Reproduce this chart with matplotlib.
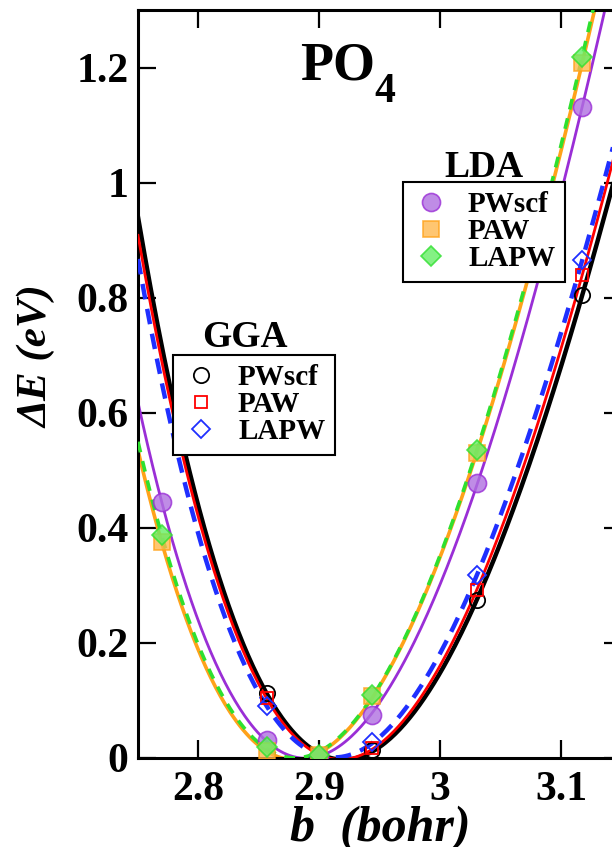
import numpy as np
import matplotlib
matplotlib.use("Agg")
import matplotlib.pyplot as plt
from matplotlib.lines import Line2D

# lattice parameter b (bohr) of the computed points
b_lda = [2.7695, 2.8565, 2.9, 2.9435, 3.0305, 3.1175]
b_gga = [2.8565, 2.9, 2.9435, 3.0305, 3.1175]

# GGA energies (eV)
gga_pwscf = [0.112, 0.004, 0.013, 0.274, 0.804]
gga_paw = [0.103, 0.003, 0.016, 0.292, 0.839]
gga_lapw = [0.090, 0.002, 0.027, 0.317, 0.865]

# LDA energies (eV)
lda_pwscf = [0.445, 0.030, 0.002, 0.074, 0.477, 1.131]
lda_paw = [0.375, 0.012, 0.004, 0.107, 0.530, 1.208]
lda_lapw = [0.387, 0.018, 0.004, 0.109, 0.535, 1.219]

codes = ["PWscf", "PAW", "LAPW"]

SERIF = "Liberation Serif"
plt.rcParams["font.family"] = [SERIF, "DejaVu Serif"]
plt.rcParams["font.weight"] = "bold"

fig = plt.figure(figsize=(6.12, 8.47), dpi=100)
ax = fig.add_axes([138 / 612, 1 - 757.5 / 847, 483.5 / 612, 747.5 / 847])

bb = np.linspace(2.75, 3.15, 300)


def fit(x, y):
    # Birch-like fit: cubic in b^-2
    x = np.asarray(x)
    c = np.polyfit(x ** -2.0, y, 3)
    return np.polyval(c, bb ** -2.0)


PURPLE = "#9a2ed6"
ORANGE = "#ffa21a"
GREEN = "#2ee02e"
BLUE = "#1f2fff"

# fitted curves
ax.plot(bb, fit(b_gga, gga_pwscf), color="black", lw=3.2, zorder=2)
ax.plot(bb, fit(b_gga, gga_paw), color="red", lw=2.0, zorder=3)
ax.plot(bb, fit(b_gga, gga_lapw), color=BLUE, lw=3.2, ls=(0, (3.5, 2.2)), zorder=3)
ax.plot(bb, fit(b_lda, lda_pwscf), color=PURPLE, lw=2.0, zorder=2)
ax.plot(bb, fit(b_lda, lda_paw), color=ORANGE, lw=2.6, zorder=2)
ax.plot(bb, fit(b_lda, lda_lapw), color=GREEN, lw=2.6, ls=(0, (3.0, 2.5)), zorder=3)

# marker styles
gga_style = [dict(marker="o", ms=11, mfc="none", mec="black", mew=1.3),
             dict(marker="s", ms=9, mfc="none", mec="red", mew=1.3),
             dict(marker="D", ms=9, mfc="none", mec=BLUE, mew=1.3)]
lda_style = [dict(marker="o", ms=13, mfc="#b070e0", mec=PURPLE, mew=1.2, alpha=0.8),
             dict(marker="s", ms=11, mfc="#ffb84d", mec=ORANGE, mew=1.2, alpha=0.8),
             dict(marker="D", ms=10, mfc="#66ee66", mec=GREEN, mew=1.2, alpha=0.8)]

for y, st in zip([gga_pwscf, gga_paw, gga_lapw], gga_style):
    ax.plot(b_gga, y, ls="none", zorder=4, **st)
for y, st in zip([lda_pwscf, lda_paw, lda_lapw], lda_style):
    ax.plot(b_lda, y, ls="none", zorder=4, **st)

ax.set_xlim(2.75, 3.15)
ax.set_ylim(0, 1.3)
ax.set_xticks([2.8, 2.9, 3.0, 3.1])
ax.set_xticklabels(["2.8", "2.9", "3", "3.1"])
ax.set_yticks([0, 0.2, 0.4, 0.6, 0.8, 1.0, 1.2])
ax.set_yticklabels(["0", "0.2", "0.4", "0.6", "0.8", "1", "1.2"])
ax.tick_params(direction="in", length=13, width=1.6, top=True, right=True, labelsize=30)
ax.tick_params(axis="x", pad=10)
ax.tick_params(axis="y", pad=7)
for lab in ax.get_xticklabels() + ax.get_yticklabels():
    lab.set_fontweight("bold")
for s in ax.spines.values():
    s.set_linewidth(2.2)

ax.set_xlabel("b  (bohr)", fontsize=36, fontweight="bold", style="italic")
ax.xaxis.set_label_coords(0.502, -0.065)
ax.set_ylabel("ΔE (eV)", fontsize=31, fontweight="bold", style="italic")
ax.yaxis.set_label_coords(-0.168, 0.537)

fig.text(300 / 612, 1 - 80 / 847, "PO", fontsize=39, fontweight="bold", ha="left", va="baseline")
fig.text(374 / 612, 1 - 102 / 847, "4", fontsize=30, fontweight="bold", ha="left", va="baseline")

# legends
gga_h = [Line2D([], [], ls="none", **st) for st in gga_style]
lda_h = [Line2D([], [], ls="none", **st) for st in lda_style]

leg_kw = dict(loc="upper left", bbox_transform=fig.transFigure, fancybox=False,
              edgecolor="black", framealpha=1, borderpad=0.32, borderaxespad=0,
              labelspacing=0.0, handlelength=1.26, handletextpad=0.65,
              prop={"family": SERIF, "weight": "bold", "size": 21})
leg1 = ax.legend(gga_h, codes, bbox_to_anchor=(173 / 612, 1 - 355 / 847), **leg_kw)
leg1.get_frame().set_linewidth(1.5)
ax.add_artist(leg1)
leg2 = ax.legend(lda_h, codes, bbox_to_anchor=(403 / 612, 1 - 182 / 847), **leg_kw)
leg2.get_frame().set_linewidth(1.5)

fig.text(245 / 612, 1 - 347 / 847, "GGA", fontsize=27, fontweight="bold", ha="center", va="baseline")
fig.text(484 / 612, 1 - 177 / 847, "LDA", fontsize=27, fontweight="bold", ha="center", va="baseline")

fig.savefig("out.png", dpi=100)
